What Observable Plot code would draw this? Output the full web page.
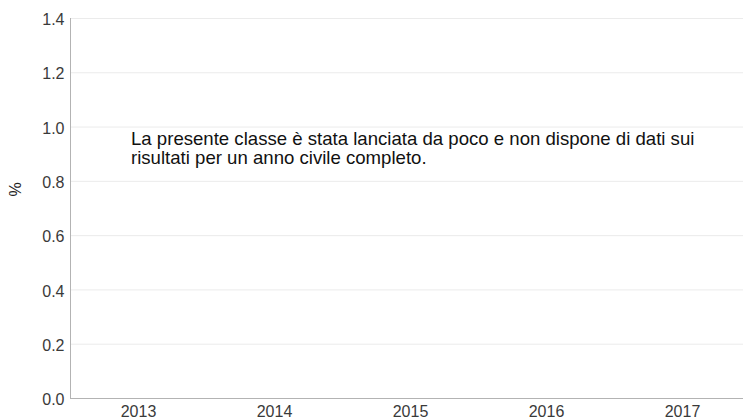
<!DOCTYPE html>
<html>
<head>
<meta charset="utf-8">
<script src="https://cdn.jsdelivr.net/npm/d3@7"></script>
<script src="https://cdn.jsdelivr.net/npm/@observablehq/plot@0.6"></script>
<style>
  html, body { margin: 0; padding: 0; background: #fff; }
  #chart svg { display: block; font-family: "Liberation Sans", Arial, sans-serif; }
</style>
</head>
<body>
<div id="chart"></div>
<script>
const years = ["2013", "2014", "2015", "2016", "2017"];
const yTicks = [0, 0.2, 0.4, 0.6, 0.8, 1.0, 1.2, 1.4];
const yLabel = "%";
const noteLines = [
  "La presente classe è stata lanciata da poco e non dispone di dati sui",
  "risultati per un anno civile completo."
];

const chart = Plot.plot({
  width: 743,
  height: 420,
  marginTop: 18,
  marginBottom: 22,
  marginLeft: 70,
  marginRight: 0,
  style: { fontFamily: "Liberation Sans, Arial, sans-serif", background: "#fff" },
  x: { type: "band", domain: years, range: [70, 750], padding: 0 },
  y: { domain: [0, 1.4] },
  marks: [
    Plot.ruleY(yTicks.filter(d => d > 0), { stroke: "#ebebeb", strokeWidth: 1 }),
    Plot.ruleY([0], { stroke: "#b3b3b3", strokeWidth: 1 }),
    Plot.frame({ anchor: "left", stroke: "#b3b3b3", strokeWidth: 1 }),
    Plot.axisY({
      ticks: yTicks, tickFormat: d3.format(".1f"), tickSize: 0, tickPadding: 6,
      fontSize: 16, color: "#3a3a3a", label: null, dy: 1.5
    }),
    Plot.axisX({
      ticks: years, tickSize: 0, tickPadding: 7,
      fontSize: 16, color: "#3a3a3a", label: null
    }),
    Plot.text([yLabel], {
      frameAnchor: "left", dx: -54.5, dy: -19, rotate: -90,
      fontSize: 16, fill: "#222", textAnchor: "middle"
    }),
    Plot.text([noteLines.join("\n")], {
      frameAnchor: "top-left", dx: 60.5, dy: 113.5,
      textAnchor: "start", lineAnchor: "top", lineHeight: 1.0,
      fontSize: 18.6, fill: "#111"
    })
  ]
});
document.getElementById("chart").appendChild(chart);
</script>
</body>
</html>
